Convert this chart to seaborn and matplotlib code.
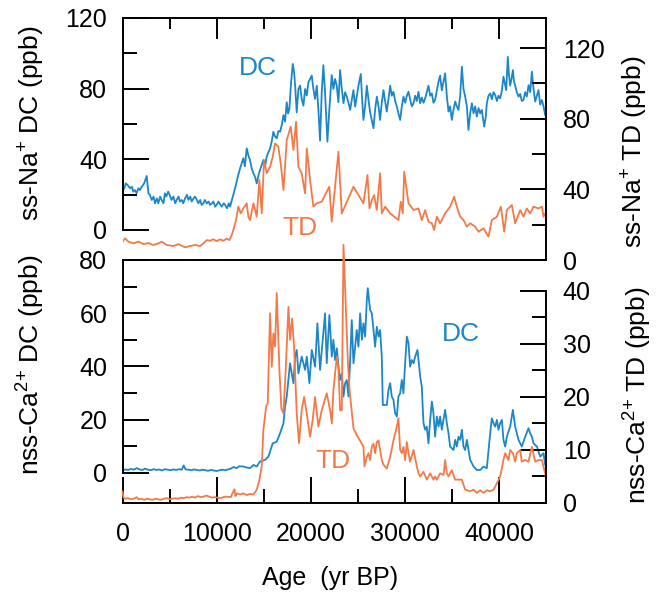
import numpy as np
import pandas as pd
import matplotlib
matplotlib.use('Agg')
import matplotlib.pyplot as plt
import seaborn as sns
from matplotlib.ticker import FixedLocator

# ss-Na+ , Dome C (DC) and Talos Dome (TD), age in yr BP
na_dc_age = [0, 180, 350, 530, 800, 1000, 1150, 1320, 1500, 1680,
             1850, 2050, 2300, 2570, 2750, 2900, 3100, 3300, 3450, 3650,
             3800, 4000, 4150, 4350, 4500, 4650, 4850, 5000, 5200, 5400,
             5600, 5750, 5950, 6100, 6300, 6450, 6650, 6850, 7000, 7200,
             7350, 7550, 7700, 7900, 8050, 8250, 8400, 8600, 8750, 8950,
             9150, 9300, 9500, 9650, 9850, 10000, 10200, 10400, 10550, 10750,
             10900, 11100, 11300, 11430,
             11960, 12200, 12490, 12840, 13000, 13200, 13380, 13550, 13720, 13910,
             14080, 14260, 14450, 14610, 14800, 14970, 15150, 15320, 15500, 15680,
             15850, 16030, 16200, 16390, 16560, 16740, 16920, 17100, 17270, 17450,
             17600, 17730, 17910, 18090, 18230, 18340, 18510, 18690, 18870, 19040,
             19220, 19400, 19580, 19750, 19930, 20110, 20280, 20460, 20640, 20810,
             20990, 21170, 21340, 21520, 21770, 21980, 22230, 22410, 22590, 22760,
             22940,
             23120, 23300, 23480, 23650, 23830, 24010, 24190, 24370, 24540, 24720,
             24900, 25070, 25320, 25450, 25600, 25780, 25960, 26130, 26310, 26490,
             26670, 26840, 27020, 27200, 27370, 27550, 27730, 27900, 28080, 28260,
             28440, 28610, 28790, 28970, 29150, 29320, 29500, 29680, 29850, 30030,
             30210, 30390, 30560, 30740, 30920, 31100, 31270, 31450, 31630, 31800,
             31980, 32160, 32330, 32510, 32690, 32870, 33040, 33220, 33400, 33580,
             33750, 33930, 34110, 34280, 34460, 34640, 34810, 34990, 35170, 35350,
             35520, 35700, 35880, 36060, 36230, 36410, 36590, 36760, 36940, 37120,
             37300, 37470, 37650, 37830, 38010, 38180, 38430, 38600, 38710, 38890,
             39070, 39250, 39420, 39600, 39780, 39950, 40130, 40310, 40480, 40660,
             40770, 40940, 41060, 41190, 41350, 41480, 41600, 41720, 41900, 42080,
             42250, 42430, 42610, 42790, 42960, 43150, 43320, 43500, 43670, 43850,
             44030, 44200, 44380, 44560, 44740, 44910, 45000]
na_dc = [21.5, 23.6, 26.4, 25.5, 23.6, 24.5, 21.7, 22.6, 20.8, 23.6,
         22.6, 24.5, 26.4, 30.6, 20.8, 19.9, 17.0, 18.9, 15.1, 17.9,
         15.1, 18.9, 17.0, 15.1, 20.8, 18.9, 21.7, 19.9, 17.0, 18.9,
         15.1, 17.0, 18.9, 16.1, 17.0, 15.1, 17.9, 19.9, 17.0, 18.9,
         16.1, 17.9, 18.9, 17.0, 15.1, 17.0, 14.2, 15.1, 17.0, 15.1,
         16.1, 14.2, 15.1, 16.1, 13.2, 14.2, 16.1, 14.2, 13.2, 15.1,
         14.2, 12.3, 15.1, 13.2,
         23.6, 29.0, 34.9, 40.6, 36.0, 46.2, 42.0, 39.6, 35.0, 32.1,
         30.0, 26.4, 31.0, 34.0, 37.0, 39.6, 36.0, 41.5, 44.0, 46.2,
         50.0, 55.6, 53.0, 51.9, 56.0, 55.6, 59.4, 65.0, 61.3, 72.3,
         66.0, 68.5, 83.6, 94.0, 89.3, 81.7, 66.6, 79.8, 81.7, 74.2,
         70.4, 79.8, 76.1, 83.6, 85.5, 87.4, 79.8, 74.2, 81.7, 68.5,
         50.6, 77.9, 93.3, 77.9, 50.0, 68.5, 87.7, 79.8, 85.5, 81.7,
         72.3,
         90.5, 80.0, 71.7, 78.0, 75.5, 72.0, 68.0, 74.0, 79.2, 69.8,
         76.0, 81.7, 88.3, 75.0, 62.3, 70.0, 81.7, 74.0, 66.6, 62.0,
         57.6, 68.0, 75.5, 70.0, 62.3, 72.0, 79.2, 73.0, 67.0, 74.0,
         81.7, 76.0, 78.2, 73.0, 69.8, 66.0, 62.3, 70.0, 75.5, 72.0,
         76.0, 78.3, 74.0, 70.0, 71.7, 76.0, 73.0, 78.2, 71.7, 75.0,
         72.0, 74.5, 78.0, 81.7, 76.0, 77.3, 72.0, 73.6, 79.0, 84.0,
         87.4, 79.0, 84.0, 88.7, 76.0, 67.0, 70.0, 62.3, 68.0, 72.7,
         70.0, 68.0, 76.0, 92.4, 80.0, 75.5, 70.0, 56.6, 66.0, 71.7,
         66.0, 70.0, 64.2, 69.0, 66.0, 68.0, 58.5, 64.0, 71.7, 76.0,
         77.3, 74.0, 78.0, 76.4, 73.0, 76.0, 74.5, 79.0, 86.8, 82.0,
         79.2, 98.0, 88.0, 81.7, 86.0, 90.5, 84.0, 81.7, 78.0, 75.5,
         77.0, 73.0, 73.6, 78.0, 75.5, 82.0, 78.0, 89.6, 80.0, 72.7,
         76.0, 79.2, 71.0, 73.6, 70.0, 65.1, 67.0]

na_td_age = [0, 270, 620, 1150, 1680, 2210, 2750, 3280, 3810, 4160,
             4690, 5400, 5930, 6640, 7170, 7710, 8240, 8590, 8950, 9300,
             9650, 10010, 10360, 10720, 11070, 11360, 11610, 11780, 12060, 12310,
             12560, 12840, 13200, 13370, 13550, 13910, 14260, 14540, 14790, 15040,
             15320, 15680, 15960, 16210, 16560, 16850, 17100, 17450, 17870, 18160,
             18440, 18690, 19040, 19400, 19580, 19930, 20280, 20640, 21170, 21700,
             21980, 22230, 22940, 23300, 24540, 25600, 26030, 26240, 26490, 26740,
             27020, 27370, 27550, 27910, 28440, 29320, 29570, 29780, 29930, 30390,
             30920, 31450, 31800, 32160, 32510, 32870, 33110, 33400, 33750, 34280,
             34810, 35240, 35520, 35880, 36230, 36590, 36940, 37470, 37830, 38360,
             38890, 39240, 39780, 40200, 40560, 40840, 41370, 41720, 42260, 42610,
             42960, 43320, 43670, 44200, 44560, 44740, 45000]
na_td = [10.4, 12.3, 10.4, 9.4, 10.4, 9.0, 9.6, 8.5, 9.4, 10.4,
         8.5, 7.9, 9.0, 7.2, 7.9, 8.5, 7.9, 9.4, 11.3, 10.9,
         11.7, 10.7, 11.7, 10.9, 12.1, 11.3, 14.2, 17.0, 22.6, 30.2,
         26.4, 29.2, 32.1, 24.5, 22.6, 32.1, 24.5, 45.3, 26.4, 56.6,
         49.1, 52.8, 58.5, 66.0, 64.2, 52.8, 39.6, 67.9, 75.5, 62.3,
         78.3, 52.8, 49.1, 37.7, 63.2, 45.3, 30.2, 32.1, 33.0, 38.7,
         41.5, 21.7, 61.3, 26.4, 41.5, 32.1, 48.1, 29.2, 33.9, 36.7,
         28.3, 49.1, 26.4, 30.2, 26.4, 22.6, 33.0, 26.4, 50.0, 32.1,
         28.3, 29.2, 22.6, 28.3, 21.7, 20.8, 17.0, 24.5, 20.8, 26.4,
         30.2, 35.8, 30.2, 24.5, 22.6, 18.9, 20.8, 18.9, 16.0, 17.9,
         13.2, 22.6, 24.5, 30.2, 16.0, 28.3, 31.1, 20.8, 28.3, 24.5,
         29.2, 26.4, 30.2, 29.2, 30.2, 24.5, 27.0]

# nss-Ca2+
ca_dc_age = [0, 300, 600, 900, 1200, 1500, 1800, 2100, 2400, 2700,
             3000, 3300, 3600, 3900, 4200, 4500, 4800, 5100, 5400, 5700,
             6000, 6300, 6500, 6700, 7000, 7300, 7600, 7900, 8200, 8500,
             8800, 9100, 9400, 9700, 10000, 10300, 10600, 10900, 11200, 11500,
             11800, 12130, 12400, 12840, 13200, 13550, 13910, 14260, 14610, 15150,
             15500, 15960, 16390, 16740, 17100, 17270, 17450, 17630, 17800, 17980,
             18160, 18340, 18510, 18690, 19040, 19400, 19580, 19860, 20110, 20460,
             20710, 20990, 21270, 21520, 21700, 21980, 22240, 22410, 22590, 22770,
             22950, 23120, 23300, 23480, 23650, 23830, 24010, 24190, 24360, 24540,
             24720, 24890, 25070, 25250, 25430, 25600, 25780, 25960, 26060, 26310,
             26490, 26670, 26840, 27020, 27200, 27370, 27550, 27660, 28080, 28260,
             28440, 28610, 28790, 28970, 29150, 29320, 29500, 29680, 29850, 30030,
             30210, 30390, 30560, 30740, 30920, 31100, 31340, 31630, 31800, 31980,
             32160, 32330, 32510, 32690, 32870, 33040, 33220, 33400, 33580, 33750,
             33930, 34280, 34460, 34640, 34810, 35170, 35350, 35520, 35700, 35880,
             36060, 36230, 36410, 36590, 36940, 37300, 37650, 38010, 38360, 38710,
             39000, 39240, 39420, 39600, 39780, 39950, 40130, 40310, 40480, 40660,
             40840, 41190, 41480, 41720, 42080, 42430, 42790, 43140, 43320, 43500,
             43670, 44030, 44380, 44740, 44910, 45000]
ca_dc = [0.9, 1.3, 1.1, 1.5, 1.2, 1.8, 1.3, 1.1, 1.6, 1.2,
         1.0, 1.4, 1.1, 1.3, 0.9, 1.4, 1.2, 1.0, 1.3, 1.1,
         1.4, 1.2, 2.8, 1.3, 1.2, 1.0, 1.3, 1.1, 0.9, 1.2,
         1.0, 0.8, 1.1, 0.9, 0.7, 1.0, 1.2, 1.0, 1.3, 1.6,
         2.2, 1.8, 2.5, 2.4, 2.0, 1.8, 3.0, 2.4, 4.3, 4.9,
         6.1, 11.1, 11.7, 14.9, 18.6, 24.9, 28.7, 35.0, 41.2, 37.4,
         33.7, 43.7, 46.2, 37.4, 43.7, 38.7, 43.7, 33.7, 46.2, 39.9,
         56.2, 38.7, 50.0, 59.9, 41.2, 59.3, 43.7, 50.0, 42.4, 46.8,
         39.9, 34.9, 37.4, 28.7, 33.7, 34.9, 28.7, 42.4, 57.4, 41.2,
         47.4, 53.7, 47.4, 59.9, 50.0, 56.2, 51.2, 65.0, 69.4, 61.2,
         59.9, 53.7, 47.4, 54.9, 51.2, 53.7, 43.7, 25.5, 25.5, 31.1,
         33.7, 28.7, 27.4, 22.4, 21.2, 28.7, 29.9, 34.9, 29.9, 41.2,
         51.2, 48.7, 39.9, 42.4, 41.2, 43.7, 46.2, 36.2, 32.4, 18.7,
         16.2, 17.4, 11.1, 19.9, 26.8, 22.4, 13.6, 21.2, 17.4, 21.2,
         16.2, 23.7, 18.7, 14.9, 9.9, 8.6, 12.4, 9.9, 13.6, 12.4,
         16.2, 9.9, 8.6, 12.4, 4.9, 2.4, 1.1, 1.1, 2.4, 1.75,
         12.4, 20.5, 18.7, 17.4, 19.9, 16.2, 18.7, 19.9, 12.4, 9.9,
         13.6, 17.4, 23.7, 17.4, 12.4, 9.9, 13.6, 16.8, 14.9, 13.6,
         11.1, 9.9, 6.1, 7.4, 3.0, 6.5]

ca_td_age = [0, 100, 300, 600, 900, 1200, 1500, 1700, 2000, 2300,
             2600, 2900, 3200, 3500, 3800, 4100, 4400, 4700, 5000, 5300,
             5600, 5900, 6200, 6500, 6800, 7100, 7400, 7700, 8000, 8300,
             8600, 8900, 9200, 9500, 9800, 10100, 10400, 10700, 11000, 11500,
             11890, 12000, 12130, 12500, 12840, 13200, 13550, 13910, 14260, 14540,
             14790, 14970, 15260, 15430, 15680, 15860, 16030, 16210, 16390, 16670,
             16880, 17100, 17340, 17630, 17800, 18020, 18230, 18510, 18760, 19040,
             19290, 19580, 19930, 20210, 20460, 20810, 21170, 21700, 22060, 22240,
             22410, 22590, 22770, 22950, 23120, 23300, 23480, 23700, 23950, 24140,
             24370, 24540, 24890, 25430, 25600, 25710, 25960, 26130, 26310, 26490,
             26670, 26840, 27020, 27200, 27370, 27550, 27730, 28080, 28440, 28790,
             29150, 29320, 29500, 29680, 29850, 30030, 30210, 30390, 30560, 30920,
             31270, 31450, 31630, 31980, 32330, 32690, 33040, 33220, 33400, 33750,
             34110, 34280, 34460, 34640, 34990, 35350, 35700, 36060, 36410, 36940,
             37300, 37650, 38010, 38360, 38710, 39070, 39420, 39780, 40130, 40480,
             40660, 41010, 41190, 41480, 41720, 41900, 42260, 42430, 42790, 43140,
             43500, 43850, 44200, 44560, 44910, 45000]
ca_td = [2.2, 1.0, 0.8, 0.9, 0.7, 0.8, 1.1, 0.7, 0.8, 0.6,
         0.8, 0.7, 0.6, 0.8, 0.7, 0.6, 0.8, 0.9, 0.7, 0.8,
         0.9, 0.8, 1.0, 0.9, 1.1, 1.0, 1.2, 1.0, 1.3, 1.1,
         1.2, 1.4, 1.2, 1.0, 1.1, 1.0, 0.9, 1.1, 1.2, 1.1,
         2.6, 1.3, 1.8, 1.6, 1.8, 1.5, 1.7, 1.6, 2.5, 4.3,
         6.9, 13.8, 18.2, 18.8, 35.8, 25.7, 32.0, 29.5, 39.6, 25.1,
         17.8, 16.9, 25.1, 37.0, 30.8, 34.8, 29.5, 16.9, 11.3, 17.5,
         20.0, 16.9, 12.5, 15.7, 20.0, 14.4, 17.5, 20.7, 17.5, 15.0,
         21.3, 24.5, 27.6, 25.1, 17.5, 17.5, 48.7, 38.0, 26.4, 21.0,
         17.0, 14.1, 12.8, 11.2, 10.6, 6.9, 8.7, 9.4, 8.1, 10.6,
         11.2, 9.4, 11.5, 11.8, 10.0, 8.1, 7.2, 6.5, 8.7, 11.8,
         14.4, 16.0, 10.0, 9.4, 10.6, 8.1, 11.5, 9.4, 7.8, 10.0,
         6.9, 5.6, 5.0, 5.9, 4.4, 5.6, 4.4, 5.0, 4.4, 5.6,
         5.3, 8.1, 5.6, 5.0, 6.2, 4.4, 4.4, 4.4, 2.5, 2.2,
         2.5, 1.9, 2.4, 1.9, 2.4, 2.2, 2.5, 3.7, 5.0, 8.1,
         9.4, 8.1, 10.0, 9.4, 7.8, 9.4, 10.0, 7.8, 8.1, 7.8,
         10.6, 7.8, 8.1, 8.1, 5.6, 4.5]

BLUE = '#1b86c8'
ORANGE = '#f37a48'

sns.set_style('ticks', {'axes.edgecolor': 'black', 'xtick.color': 'black',
                        'ytick.color': 'black', 'text.color': 'black',
                        'axes.labelcolor': 'black'})
plt.rcParams['font.family'] = ['Liberation Sans', 'DejaVu Sans']
plt.rcParams['mathtext.fontset'] = 'custom'
plt.rcParams['mathtext.rm'] = 'Liberation Sans'
plt.rcParams['mathtext.it'] = 'Liberation Sans:italic'

fig = plt.figure(figsize=(6.58, 5.98), dpi=100)
ax1 = fig.add_axes([0.1862, 0.5652, 0.6436, 0.4047])
ax2 = fig.add_axes([0.1862, 0.1589, 0.6436, 0.4064])
ax1t = ax1.twinx()
ax2t = ax2.twinx()
for a in (ax1, ax1t, ax2, ax2t):
    a.patch.set_visible(False)

sns.lineplot(x=na_dc_age, y=na_dc, ax=ax1, color=BLUE, lw=1.3, estimator=None, sort=False)
sns.lineplot(x=na_td_age, y=na_td, ax=ax1t, color=ORANGE, lw=1.3, estimator=None, sort=False)
sns.lineplot(x=ca_dc_age, y=ca_dc, ax=ax2, color=BLUE, lw=1.3, estimator=None, sort=False)
sns.lineplot(x=ca_td_age, y=ca_td, ax=ax2t, color=ORANGE, lw=1.3, estimator=None, sort=False,
             clip_on=False)

for a in (ax1, ax2):
    a.set_xlim(0, 45000)
ax1.set_ylim(-17, 120)
ax1t.set_ylim(0, 137)
ax2.set_ylim(-11.3, 80)
ax2t.set_ylim(0, 45.85)

# spines
lw_sp = 1.4
for a in (ax1, ax1t, ax2, ax2t):
    for s in a.spines.values():
        s.set_linewidth(lw_sp)
ax1.spines['right'].set_visible(False)
ax1.spines['left'].set_bounds(0, 120)
for s in ('left', 'top', 'bottom'):
    ax1t.spines[s].set_visible(False)
ax2.spines['right'].set_visible(False)
ax2.spines['top'].set_visible(False)
ax2.spines['left'].set_bounds(0, 80)
for s in ('left', 'top', 'bottom'):
    ax2t.spines[s].set_visible(False)
ax2t.spines['right'].set_bounds(0, 40)

# ticks
ax1.yaxis.set_major_locator(FixedLocator([0, 40, 80, 120]))
ax1.yaxis.set_minor_locator(FixedLocator([20, 60, 100]))
ax1t.yaxis.set_major_locator(FixedLocator([0, 40, 80, 120]))
ax1t.yaxis.set_minor_locator(FixedLocator([20, 60, 100]))
ax2.yaxis.set_major_locator(FixedLocator([0, 20, 40, 60, 80]))
ax2.yaxis.set_minor_locator(FixedLocator([10, 30, 50, 70]))
ax2t.yaxis.set_major_locator(FixedLocator([0, 10, 20, 30, 40]))
ax2t.yaxis.set_minor_locator(FixedLocator([5, 15, 25, 35]))
for a in (ax1, ax2):
    a.xaxis.set_major_locator(FixedLocator([0, 10000, 20000, 30000, 40000]))
    a.xaxis.set_minor_locator(FixedLocator([5000, 15000, 25000, 35000, 45000]))

fs_tick = 18
for a in (ax1, ax1t, ax2, ax2t):
    a.tick_params(which='major', direction='in', length=19, width=lw_sp, labelsize=fs_tick)
    a.tick_params(which='minor', direction='in', length=10, width=lw_sp)
    a.set_xlabel('')
    a.set_ylabel('')
ax1.tick_params(axis='y', pad=11)
ax2.tick_params(axis='y', pad=11)
ax1t.tick_params(axis='y', pad=12)
ax2t.tick_params(axis='y', pad=12)
ax1.tick_params(axis='x', which='both', top=True, bottom=False,
                labelbottom=False, labeltop=False)
ax1.tick_params(axis='x', which='major', length=15)
ax1.tick_params(axis='x', which='minor', length=8)
ax2.tick_params(axis='x', which='both', top=False, bottom=True, pad=14)
ax2.tick_params(axis='x', which='major', length=19)

# axis labels
fs = 19
fig.text(0.0486, 0.794, r'ss-Na$^{+}$ DC (ppb)', rotation=90, ha='center', va='center', fontsize=fs)
fig.text(0.965, 0.746, r'ss-Na$^{+}$ TD (ppb)', rotation=90, ha='center', va='center', fontsize=fs)
fig.text(0.0471, 0.3896, r'nss-Ca$^{2{+}}$ DC (ppb)', rotation=90, ha='center', va='center', fontsize=fs)
fig.text(0.970, 0.3395, r'nss-Ca$^{2{+}}$ TD (ppb)', rotation=90, ha='center', va='center', fontsize=fs)
fig.text(0.5015, 0.0334, 'Age  (yr BP)', ha='center', va='center', fontsize=18)

# series tags
ax1.text(0.32, 0.795, 'DC', transform=ax1.transAxes, color=BLUE, fontsize=19, ha='center', va='center')
ax1.text(0.419, 0.132, 'TD', transform=ax1.transAxes, color=ORANGE, fontsize=19, ha='center', va='center')
ax2.text(0.80, 0.695, 'DC', transform=ax2.transAxes, color=BLUE, fontsize=19, ha='center', va='center')
ax2.text(0.497, 0.173, 'TD', transform=ax2.transAxes, color=ORANGE, fontsize=19, ha='center', va='center')

fig.savefig('out.png', dpi=100)
